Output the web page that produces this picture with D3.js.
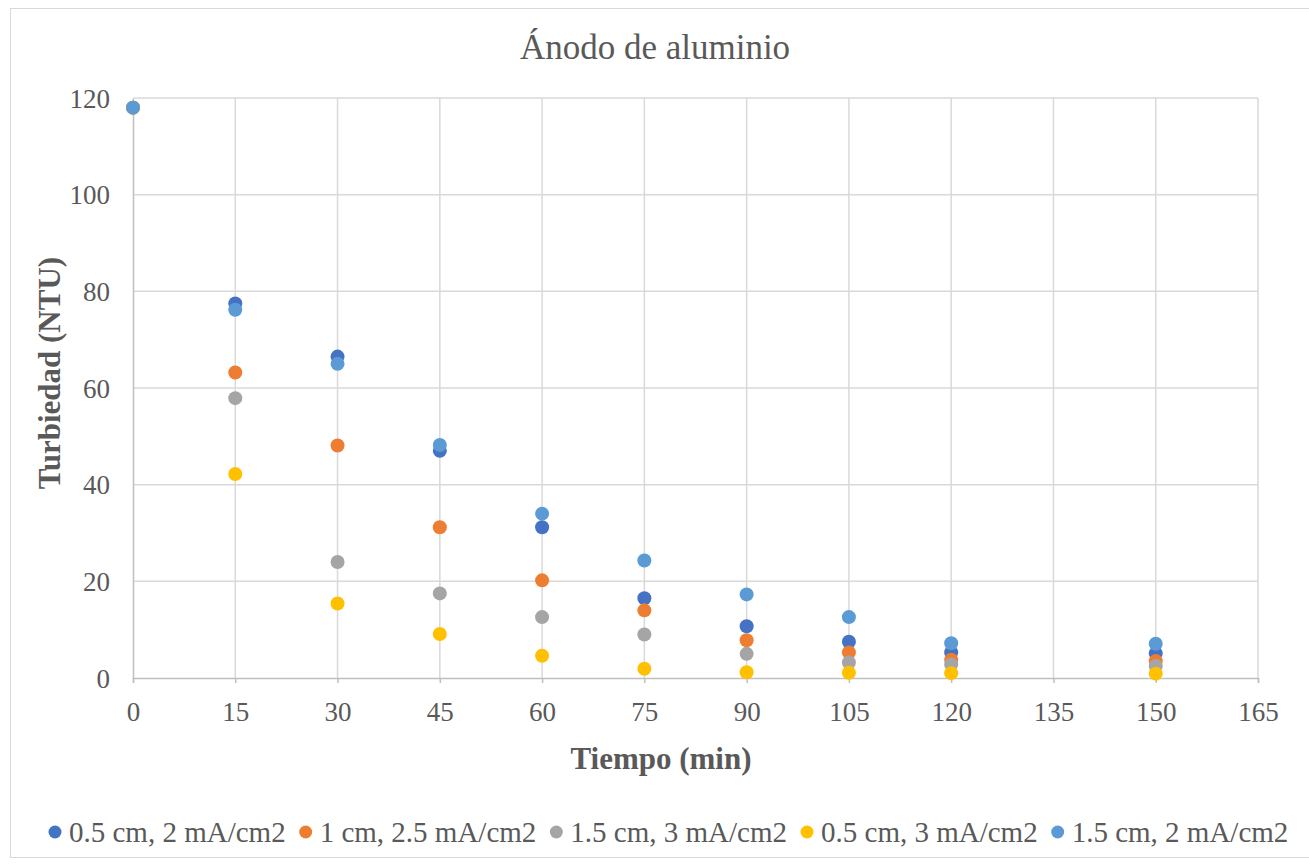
<!DOCTYPE html>
<html>
<head>
<meta charset="utf-8">
<script src="https://cdn.jsdelivr.net/npm/d3@7"></script>
<style>
  body { margin: 0; background: #fff; }
  svg text { font-family: "Liberation Serif", "Times New Roman", serif; fill: #595959; }
</style>
</head>
<body>
<div id="chart"></div>
<script>
// tiempos (min)
var tiempos = [0, 15, 30, 45, 60, 75, 90, 105, 120, 150];

// series de turbiedad (NTU)
var serieNames = ["0.5 cm, 2 mA/cm2", "1 cm, 2.5 mA/cm2", "1.5 cm, 3 mA/cm2", "0.5 cm, 3 mA/cm2", "1.5 cm, 2 mA/cm2"];
var serieA = [118, 77.5, 66.5, 47.0, 31.2, 16.5, 10.7, 7.5, 5.3, 5.1];
var serieB = [118, 63.2, 48.1, 31.2, 20.2, 14.0, 7.8, 5.3, 3.8, 3.5];
var serieC = [118, 57.9, 24.0, 17.5, 12.6, 9.0, 5.0, 3.2, 2.8, 2.5];
var serieD = [118, 42.2, 15.4, 9.1, 4.6, 1.9, 1.2, 1.1, 1.0, 0.9];
var serieE = [118, 76.2, 65.0, 48.2, 34.0, 24.3, 17.3, 12.6, 7.2, 7.1];
var colors = ["#4472C4", "#ED7D31", "#A5A5A5", "#FFC000", "#5B9BD5"];

var xTicks = d3.range(0, 166, 15);
var yTicks = d3.range(0, 121, 20);

var width = 1309, height = 867;
var margin = {top: 98, right: 51, bottom: 189, left: 133};

var svg = d3.select("#chart").append("svg")
    .attr("width", width)
    .attr("height", height);

// borde del grafico
svg.append("rect")
    .attr("x", 10.5).attr("y", 8.5)
    .attr("width", 1320).attr("height", 849)
    .attr("fill", "none")
    .attr("stroke", "#d9d9d9");

var x = d3.scaleLinear().domain([0, 165]).range([margin.left, width - margin.right]);
var y = d3.scaleLinear().domain([0, 120]).range([height - margin.bottom, margin.top]);

// gridlines
svg.append("g").selectAll("line")
    .data(yTicks.filter(d => d > 0))
    .enter().append("line")
    .attr("x1", x(0)).attr("x2", x(165))
    .attr("y1", d => y(d)).attr("y2", d => y(d))
    .attr("stroke", "#d9d9d9").attr("stroke-width", 1.5);

svg.append("g").selectAll("line")
    .data(xTicks.filter(d => d > 0))
    .enter().append("line")
    .attr("x1", d => x(d)).attr("x2", d => x(d))
    .attr("y1", y(0)).attr("y2", y(120))
    .attr("stroke", "#d9d9d9").attr("stroke-width", 1.5);

// ejes
var xAxis = svg.append("g")
    .attr("transform", "translate(0," + y(0) + ")")
    .call(d3.axisBottom(x).tickValues(xTicks).tickSize(5).tickPadding(19));
var yAxis = svg.append("g")
    .attr("transform", "translate(" + x(0) + ",0)")
    .call(d3.axisLeft(y).tickValues(yTicks).tickSize(0).tickPadding(23));

[xAxis, yAxis].forEach(function(a){
    a.select(".domain").attr("stroke", "#bfbfbf").attr("stroke-width", 1.5);
    a.selectAll(".tick line").attr("stroke", "#bfbfbf").attr("stroke-width", 1.5);
    a.selectAll(".tick text")
        .style("font-family", "'Liberation Serif', 'Times New Roman', serif")
        .style("font-size", "27px")
        .attr("fill", "#595959");
});
yAxis.selectAll(".tick text").attr("dy", "0.34em");

// puntos
var series = [serieA, serieB, serieC, serieD, serieE];
series.forEach(function(s, i){
    svg.append("g").selectAll("circle")
        .data(s)
        .enter().append("circle")
        .attr("cx", (d, j) => x(tiempos[j]))
        .attr("cy", d => y(d))
        .attr("r", 7)
        .attr("fill", colors[i]);
});

// titulos
svg.append("text")
    .attr("x", 655).attr("y", 59)
    .attr("text-anchor", "middle")
    .style("font-size", "35px")
    .text("Ánodo de aluminio");

svg.append("text")
    .attr("x", 661).attr("y", 769)
    .attr("text-anchor", "middle")
    .style("font-size", "31px").style("font-weight", "bold")
    .text("Tiempo (min)");

svg.append("text")
    .attr("transform", "translate(60,373) rotate(-90)")
    .attr("text-anchor", "middle")
    .style("font-size", "31px").style("font-weight", "bold")
    .text("Turbiedad (NTU)");

// leyenda
var legend = svg.append("g").attr("transform", "translate(0,832)");
var lx = 55;
serieNames.forEach(function(name, i){
    legend.append("circle")
        .attr("cx", lx).attr("cy", 0).attr("r", 6.5)
        .attr("fill", colors[i]);
    var t = legend.append("text")
        .attr("x", lx + 14).attr("y", 10)
        .style("font-size", "29px")
        .text(name);
    lx += t.node().getComputedTextLength() + 14 + 20;
});
</script>
</body>
</html>
